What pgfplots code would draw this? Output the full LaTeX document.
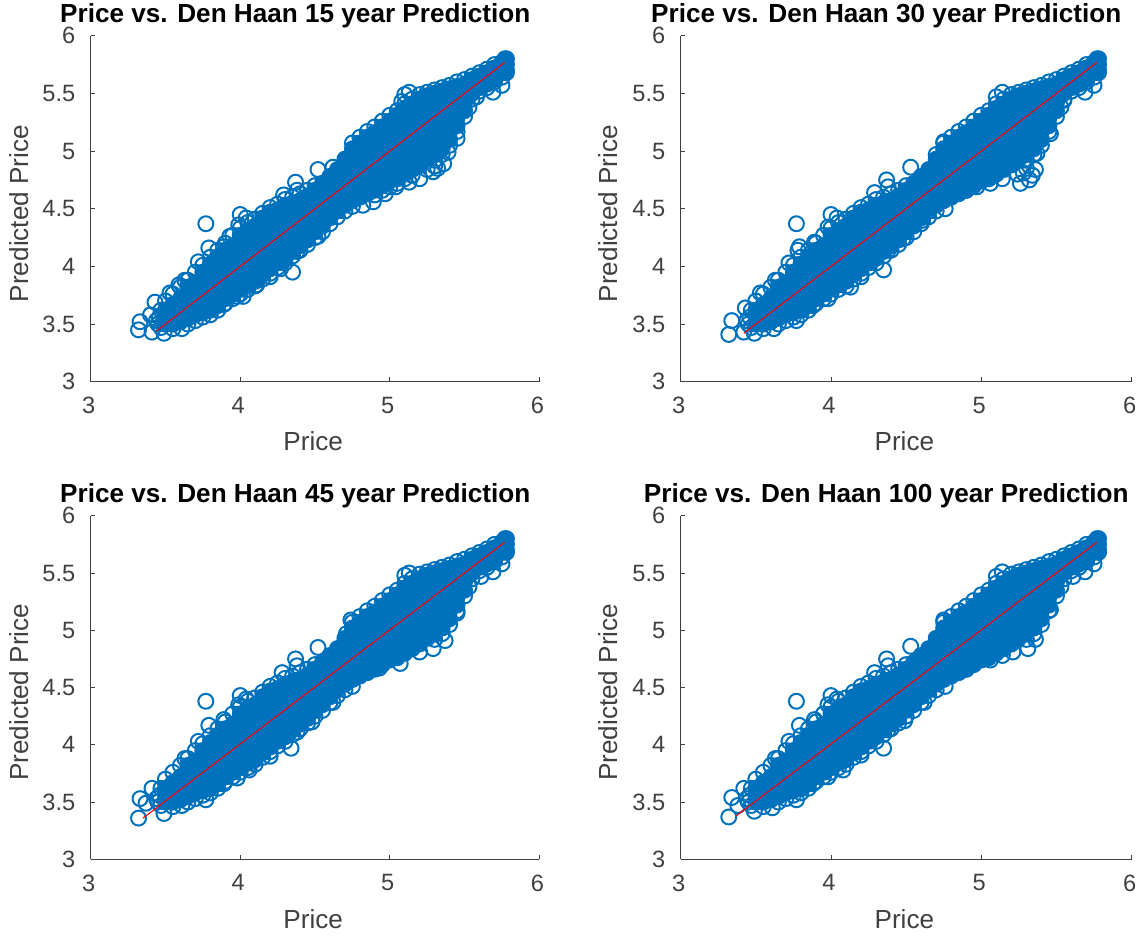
\documentclass[border=0pt]{standalone}
\usepackage{fontspec}
\setmainfont{Liberation Sans}
\usepackage{pgfplots}
\usepackage{pgfplotstable}
\pgfplotsset{compat=1.18}
\definecolor{mblue}{HTML}{0072BD}
\definecolor{axgray}{HTML}{404040}
\pgfplotstableread[row sep=\\]{x y\\
3.50 3.50\\3.50 3.56\\3.50 3.62\\
3.55 3.50\\3.55 3.56\\3.55 3.62\\3.55 3.67\\
3.60 3.52\\3.60 3.59\\3.60 3.66\\3.60 3.72\\
3.65 3.55\\3.65 3.62\\3.65 3.69\\3.65 3.76\\3.65 3.82\\
3.70 3.58\\3.70 3.65\\3.70 3.72\\3.70 3.79\\3.70 3.86\\
3.75 3.60\\3.75 3.67\\3.75 3.74\\3.75 3.81\\3.75 3.88\\3.75 3.95\\
3.80 3.62\\3.80 3.69\\3.80 3.76\\3.80 3.83\\3.80 3.90\\3.80 3.97\\3.80 4.02\\
3.85 3.66\\3.85 3.73\\3.85 3.80\\3.85 3.87\\3.85 3.94\\3.85 4.01\\3.85 4.08\\
3.90 3.72\\3.90 3.79\\3.90 3.86\\3.90 3.93\\3.90 4.00\\3.90 4.07\\3.90 4.14\\
3.95 3.76\\3.95 3.83\\3.95 3.90\\3.95 3.97\\3.95 4.04\\3.95 4.11\\3.95 4.18\\
4.00 3.80\\4.00 3.87\\4.00 3.94\\4.00 4.01\\4.00 4.08\\4.00 4.15\\4.00 4.22\\4.00 4.27\\
4.05 3.84\\4.05 3.91\\4.05 3.98\\4.05 4.05\\4.05 4.12\\4.05 4.19\\4.05 4.26\\4.05 4.31\\
4.10 3.87\\4.10 3.94\\4.10 4.01\\4.10 4.08\\4.10 4.15\\4.10 4.22\\4.10 4.29\\4.10 4.35\\
4.15 3.93\\4.15 4.00\\4.15 4.07\\4.15 4.14\\4.15 4.21\\4.15 4.28\\4.15 4.35\\4.15 4.42\\
4.20 3.98\\4.20 4.05\\4.20 4.12\\4.20 4.19\\4.20 4.26\\4.20 4.33\\4.20 4.40\\4.20 4.47\\
4.25 4.03\\4.25 4.10\\4.25 4.17\\4.25 4.24\\4.25 4.31\\4.25 4.38\\4.25 4.45\\4.25 4.49\\
4.30 4.07\\4.30 4.14\\4.30 4.21\\4.30 4.28\\4.30 4.35\\4.30 4.42\\4.30 4.49\\4.30 4.53\\
4.35 4.13\\4.35 4.20\\4.35 4.27\\4.35 4.34\\4.35 4.41\\4.35 4.48\\4.35 4.55\\
4.40 4.18\\4.40 4.25\\4.40 4.32\\4.40 4.39\\4.40 4.46\\4.40 4.53\\4.40 4.57\\
4.45 4.23\\4.45 4.30\\4.45 4.37\\4.45 4.44\\4.45 4.51\\4.45 4.58\\4.45 4.61\\
4.50 4.30\\4.50 4.37\\4.50 4.44\\4.50 4.51\\4.50 4.58\\4.50 4.66\\
4.55 4.35\\4.55 4.42\\4.55 4.49\\4.55 4.56\\4.55 4.63\\4.55 4.72\\
4.60 4.42\\4.60 4.49\\4.60 4.56\\4.60 4.63\\4.60 4.70\\4.60 4.78\\
4.65 4.48\\4.65 4.55\\4.65 4.62\\4.65 4.69\\4.65 4.76\\4.65 4.84\\
4.70 4.53\\4.70 4.60\\4.70 4.67\\4.70 4.74\\4.70 4.81\\4.70 4.88\\4.70 4.93\\
4.75 4.57\\4.75 4.64\\4.75 4.71\\4.75 4.78\\4.75 4.85\\4.75 4.92\\4.75 4.99\\4.75 5.02\\
4.80 4.60\\4.80 4.67\\4.80 4.74\\4.80 4.81\\4.80 4.88\\4.80 4.95\\4.80 5.02\\4.80 5.07\\
4.85 4.63\\4.85 4.70\\4.85 4.77\\4.85 4.84\\4.85 4.91\\4.85 4.98\\4.85 5.05\\4.85 5.12\\
4.90 4.66\\4.90 4.73\\4.90 4.80\\4.90 4.87\\4.90 4.94\\4.90 5.01\\4.90 5.08\\4.90 5.16\\
4.95 4.70\\4.95 4.77\\4.95 4.84\\4.95 4.91\\4.95 4.98\\4.95 5.05\\4.95 5.12\\4.95 5.21\\
5.00 4.74\\5.00 4.81\\5.00 4.88\\5.00 4.95\\5.00 5.02\\5.00 5.09\\5.00 5.16\\5.00 5.26\\
5.05 4.76\\5.05 4.83\\5.05 4.90\\5.05 4.97\\5.05 5.04\\5.05 5.11\\5.05 5.18\\5.05 5.25\\5.05 5.31\\
5.10 4.80\\5.10 4.87\\5.10 4.94\\5.10 5.01\\5.10 5.08\\5.10 5.15\\5.10 5.22\\5.10 5.29\\5.10 5.37\\
5.15 4.84\\5.15 4.91\\5.15 4.98\\5.15 5.05\\5.15 5.12\\5.15 5.19\\5.15 5.26\\5.15 5.33\\5.15 5.41\\
5.20 4.88\\5.20 4.95\\5.20 5.02\\5.20 5.09\\5.20 5.16\\5.20 5.23\\5.20 5.30\\5.20 5.37\\5.20 5.45\\
5.25 4.93\\5.25 5.00\\5.25 5.07\\5.25 5.14\\5.25 5.21\\5.25 5.28\\5.25 5.35\\5.25 5.42\\5.25 5.48\\
5.30 4.97\\5.30 5.04\\5.30 5.11\\5.30 5.18\\5.30 5.25\\5.30 5.32\\5.30 5.39\\5.30 5.46\\5.30 5.50\\
5.35 5.02\\5.35 5.09\\5.35 5.16\\5.35 5.23\\5.35 5.30\\5.35 5.37\\5.35 5.44\\5.35 5.52\\
5.40 5.10\\5.40 5.17\\5.40 5.24\\5.40 5.31\\5.40 5.38\\5.40 5.45\\5.40 5.54\\
5.45 5.22\\5.45 5.29\\5.45 5.36\\5.45 5.43\\5.45 5.50\\5.45 5.56\\
5.50 5.35\\5.50 5.42\\5.50 5.49\\5.50 5.58\\
5.55 5.50\\5.55 5.56\\5.55 5.62\\
5.60 5.55\\5.60 5.60\\5.60 5.65\\
5.65 5.58\\5.65 5.63\\5.65 5.68\\
5.70 5.62\\5.70 5.67\\5.70 5.72\\
5.75 5.68\\5.75 5.72\\5.75 5.77\\
5.78 5.70\\5.78 5.75\\5.78 5.80\\
}\core
\pgfplotstableread[row sep=\\]{x y\\
3.47 3.62\\3.50 3.70\\3.55 3.76\\3.60 3.82\\3.65 3.88\\3.70 3.95\\3.75 4.01\\3.80 4.08\\3.85 4.14\\3.90 4.20\\3.95 4.27\\4.00 4.33\\4.05 4.38\\4.10 4.41\\4.15 4.46\\4.20 4.51\\4.25 4.54\\4.30 4.58\\4.35 4.60\\4.40 4.63\\4.45 4.66\\4.50 4.70\\
3.47 3.47\\3.55 3.46\\3.65 3.50\\3.70 3.53\\3.75 3.56\\3.80 3.58\\3.85 3.62\\3.90 3.68\\3.95 3.72\\4.00 3.76\\4.05 3.80\\4.10 3.83\\4.15 3.89\\4.20 3.94\\4.25 3.99\\4.30 4.03\\4.35 4.09\\4.40 4.14\\4.45 4.19\\4.50 4.25\\4.55 4.30\\4.60 4.37\\4.65 4.43\\4.70 4.48\\
3.45 3.50\\3.46 3.56\\3.44 3.53\\
4.75 5.07\\4.80 5.12\\4.85 5.17\\4.90 5.21\\4.95 5.26\\5.00 5.31\\5.05 5.35\\5.10 5.41\\5.15 5.45\\5.20 5.49\\5.25 5.51\\5.30 5.53\\5.35 5.55\\5.40 5.57\\5.45 5.60\\5.50 5.62\\5.55 5.65\\5.60 5.68\\5.65 5.71\\5.70 5.75\\
5.40 5.05\\5.45 5.17\\5.50 5.30\\5.53 5.38\\5.55 5.45\\5.30 4.92\\5.35 4.97\\5.60 5.52\\5.65 5.55\\5.70 5.60\\5.75 5.64\\5.78 5.68\\
}\fringe
\pgfplotsset{
  panel/.style={
    scale only axis,
    axis lines=left,
    axis line style={-,color=axgray,line width=0.8pt},
    tick style={color=axgray,line width=0.6pt},
    tick align=inside,
    major tick length=3.4pt,
    xmin=3,xmax=6,ymin=3,ymax=6,
    xtick={3,4,5,6},
    ytick={3,3.5,4,4.5,5,5.5,6},
    xticklabels={3,4,5,6},
    yticklabels={3,3.5,4,4.5,5,5.5,6},
    tick label style={font=\fontsize{17.7pt}{20pt}\selectfont,color=axgray},
    yticklabel style={xshift=-8pt},
    xticklabel style={yshift=-8pt,xshift=-1.5pt},
    xlabel={Price},
    ylabel={Predicted Price},
    xlabel style={at={(axis description cs:0.496,-0.2)},anchor=base,font=\fontsize{19.6pt}{22pt}\selectfont,color=axgray},
    ylabel style={at={(axis description cs:-0.1396,0.486)},anchor=base,font=\fontsize{19.6pt}{22pt}\selectfont,color=axgray},
    title style={at={(axis description cs:0.456,1.0145)},anchor=base,yshift=0pt,font=\fontsize{19.6pt}{22pt}\selectfont\bfseries,color=black},
    clip mode=individual,
    clip=false,
  },
  rings/.style={only marks,mark=o,mark size=5.6pt,color=mblue,mark options={line width=1.5pt,color=mblue}},
  mass/.style={only marks,mark=*,mark size=5.6pt,color=mblue,mark options={line width=1.5pt,color=mblue,fill=mblue}},
  fit/.style={no marks,color=red,line width=0.8pt},
}
\begin{document}
\begin{tikzpicture}
\useasboundingbox (0,0) rectangle (858.75pt,702pt);
\begin{axis}[panel,at={(68pt,415.7pt)},anchor=south west,width=336.5pt,height=259.5pt,
  title={Price vs. Den Haan 15 year Prediction}]
\addplot[mass] table {\core};
\addplot[rings] table {\fringe};
\addplot[rings] coordinates {(3.77,4.37)(4.35,3.95)(3.32,3.45)(3.33,3.52)(3.41,3.43)(3.49,3.42)(3.61,3.46)(3.43,3.69)(3.40,3.58)(5.13,5.51)(5.10,5.49)(5.08,5.43)(4.52,4.84)(4.62,4.86)(4.37,4.73)(4.38,4.66)(4.29,4.62)(4.00,4.45)(4.04,4.42)(3.99,4.36)(3.79,4.16)(3.72,4.04)(3.93,4.26)(3.89,4.17)(3.63,3.88)(3.53,3.77)(3.59,3.84)(3.89,3.67)(3.98,3.74)(4.02,3.74)(4.11,3.84)(4.20,3.91)(4.27,3.98)(4.38,4.13)(4.52,4.26)(4.75,4.52)(4.82,4.53)(4.89,4.56)(4.97,4.63)(5.04,4.69)(5.13,4.73)(5.20,4.76)(5.29,4.82)(5.36,4.89)(5.39,4.99)(5.45,5.11)(5.58,5.47)(5.69,5.51)(5.75,5.57)(5.77,5.80)(4.90,4.62)(4.95,4.66)(5.00,4.69)(5.05,4.72)(5.10,4.76)(5.15,4.79)(5.25,4.84)(5.30,4.87)(5.32,4.85)};
\addplot[fit] coordinates {(3.44,3.44)(5.77,5.77)};
\end{axis}
\begin{axis}[panel,at={(510.5pt,415.7pt)},anchor=south west,width=338.2pt,height=259.5pt,
  title={Price vs. Den Haan 30 year Prediction}]
\addplot[mass] table {\core};
\addplot[rings] table {\fringe};
\addplot[rings] coordinates {(3.77,4.37)(4.35,3.97)(3.32,3.41)(3.34,3.53)(3.42,3.43)(3.49,3.42)(3.62,3.46)(3.77,3.53)(3.43,3.64)(5.14,5.51)(5.10,5.47)(4.53,4.86)(4.37,4.75)(4.38,4.69)(4.29,4.64)(4.00,4.45)(4.04,4.42)(3.98,4.34)(3.79,4.17)(3.78,4.14)(3.89,4.21)(3.72,4.03)(3.63,3.88)(3.53,3.77)(3.88,3.66)(3.98,3.72)(4.13,3.82)(4.20,3.91)(4.38,4.14)(4.48,4.24)(4.61,4.40)(4.76,4.50)(4.90,4.66)(4.97,4.69)(5.06,4.72)(5.14,4.76)(5.26,4.72)(5.32,4.75)(5.36,4.84)(5.28,4.81)(5.37,4.98)(5.46,5.15)(5.55,5.44)(5.69,5.51)(5.75,5.57)(5.77,5.80)(4.75,5.08)(4.70,4.97)(5.30,4.85)(5.24,4.80)(5.34,4.79)};
\addplot[fit] coordinates {(3.42,3.42)(5.77,5.77)};
\end{axis}
\begin{axis}[panel,at={(68pt,57.5pt)},anchor=south west,width=336.5pt,height=257.7pt,
  title={Price vs. Den Haan 45 year Prediction}]
\addplot[mass] table {\core};
\addplot[rings] table {\fringe};
\addplot[rings] coordinates {(3.77,4.38)(4.34,3.97)(3.32,3.36)(3.33,3.53)(3.37,3.49)(3.49,3.40)(3.61,3.47)(3.77,3.52)(3.41,3.62)(5.13,5.50)(5.10,5.48)(4.52,4.85)(4.37,4.75)(4.38,4.69)(4.28,4.63)(4.00,4.43)(4.04,4.40)(3.99,4.35)(3.79,4.17)(3.72,4.03)(3.89,4.22)(3.63,3.88)(3.89,3.66)(3.98,3.71)(4.06,3.78)(4.20,3.90)(4.38,4.11)(4.48,4.20)(4.62,4.37)(4.75,4.51)(4.93,4.67)(5.07,4.71)(5.20,4.81)(5.29,4.84)(5.37,4.91)(5.45,5.15)(5.61,5.47)(5.69,5.51)(5.75,5.58)(5.77,5.80)(4.74,5.09)(4.71,4.97)};
\addplot[fit] coordinates {(3.35,3.36)(5.77,5.77)};
\end{axis}
\begin{axis}[panel,at={(510.5pt,57.5pt)},anchor=south west,width=338.2pt,height=257.7pt,
  title={Price vs. Den Haan 100 year Prediction}]
\addplot[mass] table {\core};
\addplot[rings] table {\fringe};
\addplot[rings] coordinates {(3.77,4.38)(4.35,3.97)(3.32,3.37)(3.34,3.54)(3.38,3.47)(3.49,3.42)(3.61,3.45)(3.77,3.52)(3.42,3.62)(5.14,5.51)(5.10,5.47)(4.53,4.86)(4.37,4.75)(4.38,4.69)(4.29,4.63)(4.00,4.43)(4.04,4.40)(3.98,4.35)(3.79,4.17)(3.72,4.03)(3.89,4.22)(3.63,3.88)(3.88,3.66)(3.98,3.72)(4.08,3.78)(4.20,3.91)(4.38,4.13)(4.49,4.21)(4.62,4.37)(4.76,4.51)(4.90,4.66)(5.06,4.74)(5.14,4.78)(5.21,4.81)(5.31,4.84)(5.36,4.92)(5.46,5.18)(5.61,5.47)(5.69,5.51)(5.75,5.58)(5.77,5.80)(4.75,5.09)};
\addplot[fit] coordinates {(3.37,3.38)(5.77,5.77)};
\end{axis}
\end{tikzpicture}
\end{document}
